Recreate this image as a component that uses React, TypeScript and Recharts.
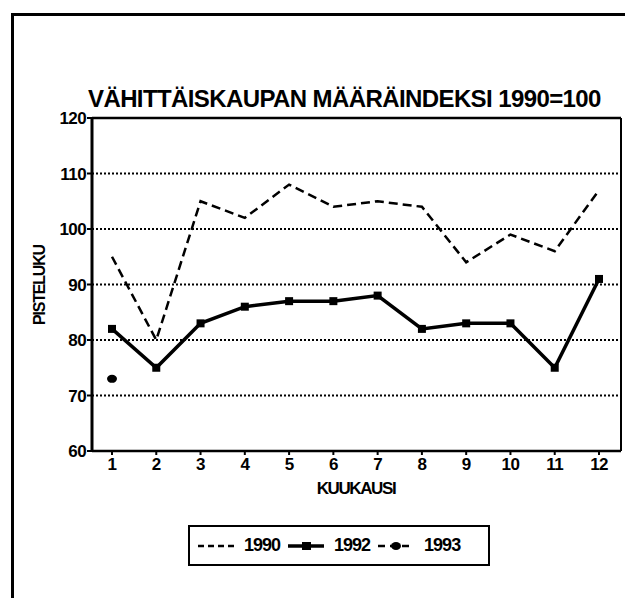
import React from 'react';
import { LineChart, Line, XAxis, YAxis, CartesianGrid, ReferenceLine } from 'recharts';

const months = ['1', '2', '3', '4', '5', '6', '7', '8', '9', '10', '11', '12'];
const index1990 = [95, 80, 105, 102, 108, 104, 105, 104, 94, 99, 96, 107];
const index1992 = [82, 75, 83, 86, 87, 87, 88, 82, 83, 83, 75, 91];
const index1993: (number | null)[] = [73, null, null, null, null, null, null, null, null, null, null, null];
const yTicks = [60, 70, 80, 90, 100, 110, 120];

const data = months.map((m, i) => ({
  month: m,
  y1990: index1990[i],
  y1992: index1992[i],
  y1993: index1993[i],
}));

const FONT = '"Liberation Sans", Arial, sans-serif';
const tickStyle = { fontSize: 17, fontWeight: 700, fill: '#000', fontFamily: FONT, letterSpacing: -0.6 };

const SquareDot = (props: any) => {
  const { cx, cy, index } = props;
  if (cx == null || cy == null) return <g key={`sq-${index}`} />;
  return <rect key={`sq-${index}`} x={cx - 4} y={cy - 4} width={8} height={8} fill="#000" />;
};

const RoundDot = (props: any) => {
  const { cx, cy, index, value } = props;
  if (cx == null || cy == null || value == null) return <g key={`rd-${index}`} />;
  return <ellipse key={`rd-${index}`} cx={cx} cy={cy} rx={5} ry={4} fill="#000" />;
};

function LegendItem({ kind, label }: { kind: 'dash' | 'solid' | 'dashdot'; label: string }) {
  return (
    <div style={{ display: 'flex', alignItems: 'center', marginRight: 6 }}>
      <svg width={40} height={14}>
        {kind === 'dash' && <line x1={2} y1={7} x2={38} y2={7} stroke="#000" strokeWidth={2.5} strokeDasharray="6 4" />}
        {kind === 'solid' && (
          <>
            <line x1={2} y1={7} x2={38} y2={7} stroke="#000" strokeWidth={3.5} />
            <rect x={16} y={3} width={9} height={8} fill="#000" />
          </>
        )}
        {kind === 'dashdot' && (
          <>
            <line x1={2} y1={7} x2={38} y2={7} stroke="#000" strokeWidth={2.5} strokeDasharray="7 5" />
            <ellipse cx={20} cy={7} rx={5} ry={4} fill="#000" />
          </>
        )}
      </svg>
      <span style={{ marginLeft: 8, fontSize: 18, fontWeight: 700, letterSpacing: -1 }}>{label}</span>
    </div>
  );
}

export default function App() {
  return (
    <div style={{ position: 'absolute', left: 0, top: 0, width: 625, height: 598, background: '#fff', fontFamily: FONT, color: '#000' }}>
      {/* outer frame */}
      <div style={{ position: 'absolute', left: 11, top: 13, width: 614, height: 585, borderTop: '3px solid #000', borderLeft: '3px solid #000', boxSizing: 'border-box' }} />

      <div style={{ position: 'absolute', left: 88, top: 86, fontSize: 24, fontWeight: 700, letterSpacing: -0.6, whiteSpace: 'nowrap', lineHeight: '26px' }}>
        VÄHITTÄISKAUPAN MÄÄRÄINDEKSI 1990=100
      </div>

      <div style={{ position: 'absolute', left: 40, top: 285, transform: 'translate(-50%, -50%) rotate(-90deg)', fontSize: 16, fontWeight: 700, letterSpacing: -1.2, whiteSpace: 'nowrap' }}>
        PISTELUKU
      </div>

      <div style={{ position: 'absolute', left: 356, top: 489, transform: 'translate(-50%, -50%)', fontSize: 17, fontWeight: 700, letterSpacing: -1.4, whiteSpace: 'nowrap' }}>
        KUUKAUSI
      </div>

      <LineChart width={625} height={598} data={data} margin={{ top: 118, right: 3, left: 32, bottom: 107 }} style={{ position: 'absolute', left: 0, top: 0 }}>
        <CartesianGrid vertical={false} stroke="#000" strokeWidth={2} strokeDasharray="2 2" horizontalValues={[70, 80, 90, 100, 110]} />
        <XAxis dataKey="month" height={40} padding={{ left: 20, right: 22 }} axisLine={{ stroke: '#000', strokeWidth: 2.5 }} tickLine={{ stroke: '#000', strokeWidth: 2 }} tickSize={4} tick={tickStyle} tickMargin={3} interval={0} />
        <YAxis domain={[60, 120]} ticks={yTicks} width={60} axisLine={{ stroke: '#000', strokeWidth: 3 }} tickLine={{ stroke: '#000', strokeWidth: 2 }} tickSize={5} tickMargin={1} tick={tickStyle} interval={0} />
        <YAxis yAxisId="right" orientation="right" domain={[60, 120]} width={1} tick={false} tickLine={false} axisLine={{ stroke: '#000', strokeWidth: 2 }} />
        <ReferenceLine y={120} stroke="#000" strokeWidth={2.5} />
        <Line dataKey="y1990" type="linear" stroke="#000" strokeWidth={2.5} strokeDasharray="9 5" dot={false} isAnimationActive={false} />
        <Line dataKey="y1992" type="linear" stroke="#000" strokeWidth={3.5} dot={SquareDot} isAnimationActive={false} />
        <Line dataKey="y1993" type="linear" stroke="#000" strokeWidth={2.5} strokeDasharray="7 5" dot={RoundDot} connectNulls={false} isAnimationActive={false} />
      </LineChart>

      <div style={{ position: 'absolute', left: 188, top: 525, width: 302, height: 41, border: '2px solid #000', boxSizing: 'border-box', display: 'flex', alignItems: 'center', paddingLeft: 6 }}>
        <LegendItem kind="dash" label="1990" />
        <LegendItem kind="solid" label="1992" />
        <LegendItem kind="dashdot" label="1993" />
      </div>
    </div>
  );
}
